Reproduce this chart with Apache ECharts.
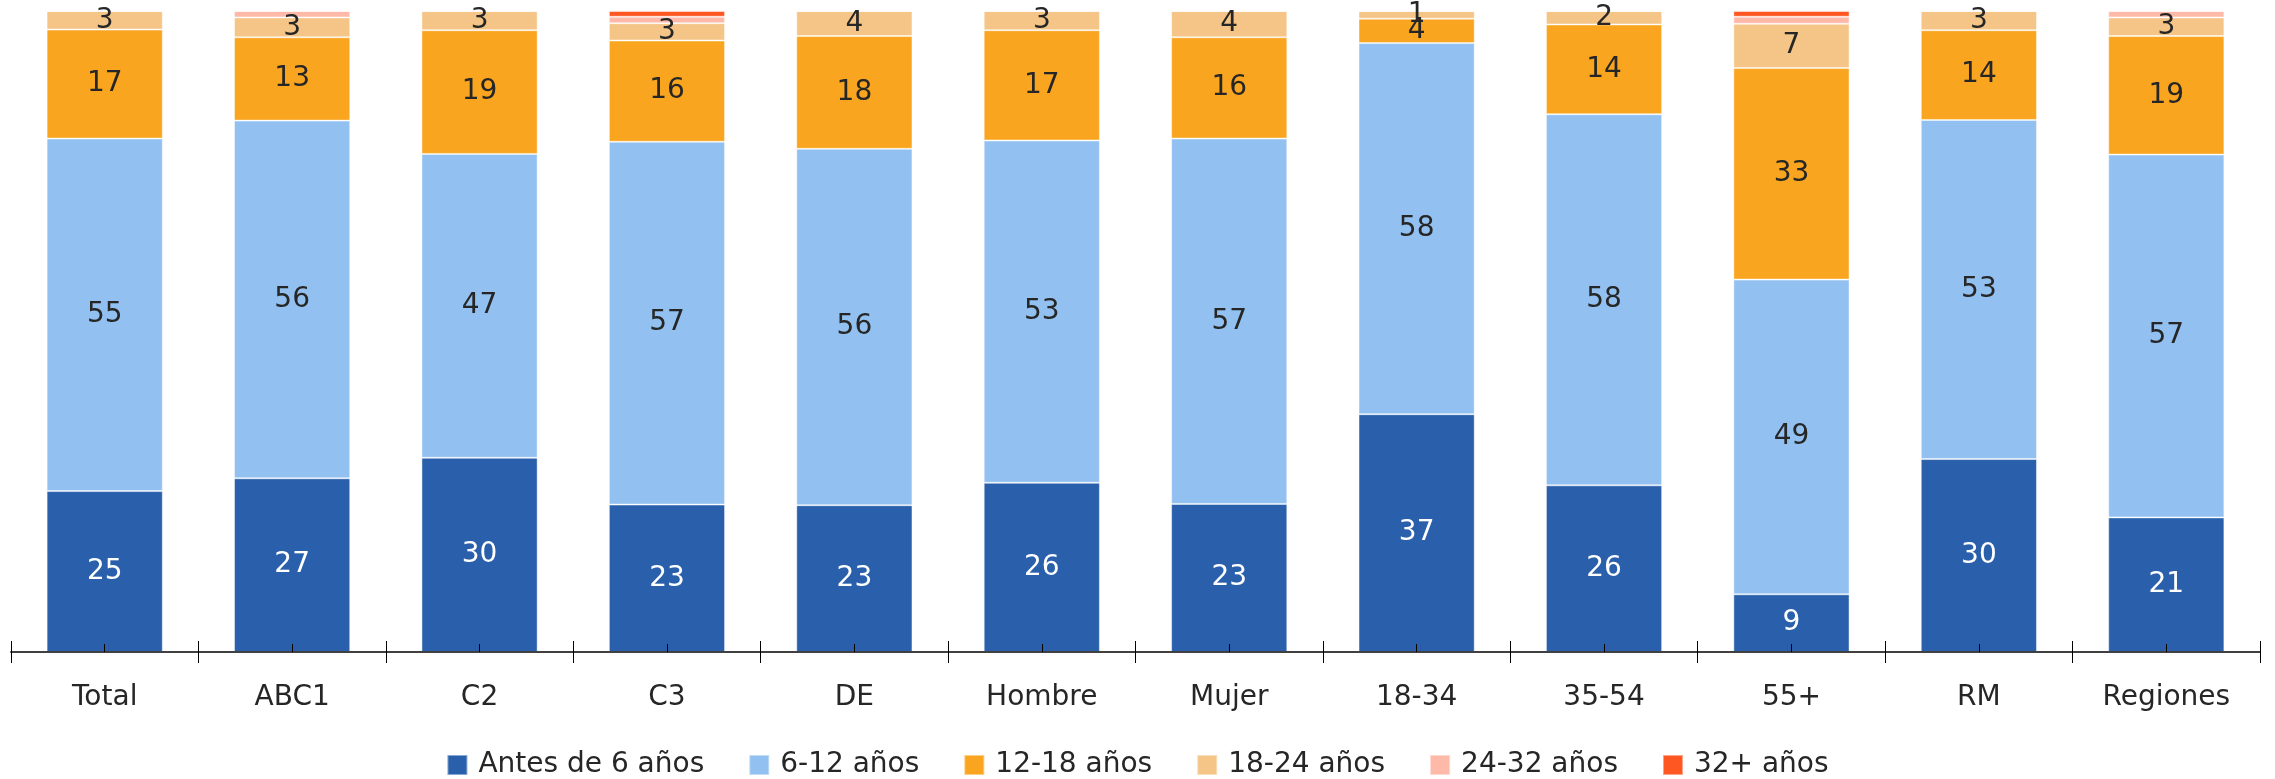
<!DOCTYPE html>
<html>
<head>
<meta charset="utf-8">
<script src="https://cdn.jsdelivr.net/npm/echarts@6/dist/echarts.min.js"></script>
<style>
  html, body { margin: 0; padding: 0; background: #fff; }
  #chart { width: 2275px; height: 779px; }
</style>
</head>
<body>
<div id="chart"></div>
<script>
// categorías y porcentajes
var categorias = ["Total", "ABC1", "C2", "C3", "DE", "Hombre", "Mujer", "18-34", "35-54", "55+", "RM", "Regiones"];
var antes6  = [25.1, 27.1, 30.3, 23.0, 22.9, 26.4, 23.1, 37.1, 26.0, 9.0, 30.1, 21.0];
var de6a12  = [55.0, 55.8, 47.4, 56.6, 55.6, 53.4, 57.0, 57.9, 57.9, 49.1, 52.9, 56.6];
var de12a18 = [17.0, 13.0, 19.3, 15.8, 17.6, 17.2, 15.8, 3.8, 14.0, 33.0, 14.0, 18.5];
var de18a24 = [2.9, 3.1, 3.0, 2.7, 3.9, 3.0, 4.1, 1.2, 2.1, 6.9, 3.0, 2.9];
var de24a32 = [0, 1.0, 0, 1.0, 0, 0, 0, 0, 0, 1.1, 0, 1.0];
var mas32   = [0, 0, 0, 0.9, 0, 0, 0, 0, 0, 0.9, 0, 0];

var nombres = ["Antes de 6 años", "6-12 años", "12-18 años", "18-24 años", "24-32 años", "32+ años"];
var colores = ["#2A60AB", "#92C1F1", "#F9A51F", "#F4C586", "#FEB9A8", "#FF5722"];
var valores = [antes6, de6a12, de12a18, de18a24, de24a32, mas32];

var fuente = "DejaVu Sans";
var gridPos = { left: 11, right: 15, top: 11, bottom: 127 };

var series = [];
for (var i = 0; i < valores.length; i++) {
  series.push({
    name: nombres[i],
    type: "bar",
    stack: "total",
    barWidth: "62%",
    data: valores[i],
    itemStyle: {
      color: colores[i],
      borderColor: "rgba(255,255,255,0.45)",
      borderWidth: 1
    },
    label: {
      show: i < 4,
      position: "inside",
      color: i == 0 ? "#ffffff" : "#262626",
      fontFamily: fuente,
      fontSize: 28,
      formatter: function (p) {
        return p.value > 0 ? Math.round(p.value) : "";
      }
    }
  });
}

// ejes extra solo para las marcas del eje x
function ejeMarcas(idx, centro) {
  return {
    type: "category",
    gridIndex: idx,
    data: categorias,
    position: "bottom",
    z: 10,
    axisLine: { show: false },
    axisTick: {
      show: true,
      inside: true,
      alignWithLabel: centro,
      length: centro ? 8 : 11,
      lineStyle: { color: "#000", width: 1 }
    },
    axisLabel: { show: false }
  };
}

var chart = echarts.init(document.getElementById("chart"));
chart.setOption({
  animation: false,
  grid: [
    Object.assign({}, gridPos),
    Object.assign({}, gridPos),
    Object.assign({}, gridPos)
  ],
  legend: {
    data: nombres,
    top: 746,
    left: "center",
    itemWidth: 20,
    itemHeight: 20,
    itemGap: 44,
    icon: "rect",
    textStyle: {
      fontFamily: fuente,
      fontSize: 28,
      color: "#262626",
      padding: [0, 0, 0, 6]
    }
  },
  xAxis: [
    {
      type: "category",
      gridIndex: 0,
      data: categorias,
      position: "bottom",
      z: 10,
      axisLine: { lineStyle: { color: "#404040", width: 2 } },
      axisTick: { show: true, length: 11, lineStyle: { color: "#000", width: 1 } },
      axisLabel: { margin: 32, fontFamily: fuente, fontSize: 28, color: "#262626" }
    },
    ejeMarcas(1, false),
    ejeMarcas(2, true)
  ],
  yAxis: [
    { type: "value", gridIndex: 0, min: 0, max: 100, show: false },
    { type: "value", gridIndex: 1, min: 0, max: 100, show: false },
    { type: "value", gridIndex: 2, min: 0, max: 100, show: false }
  ],
  series: series
});
</script>
</body>
</html>
